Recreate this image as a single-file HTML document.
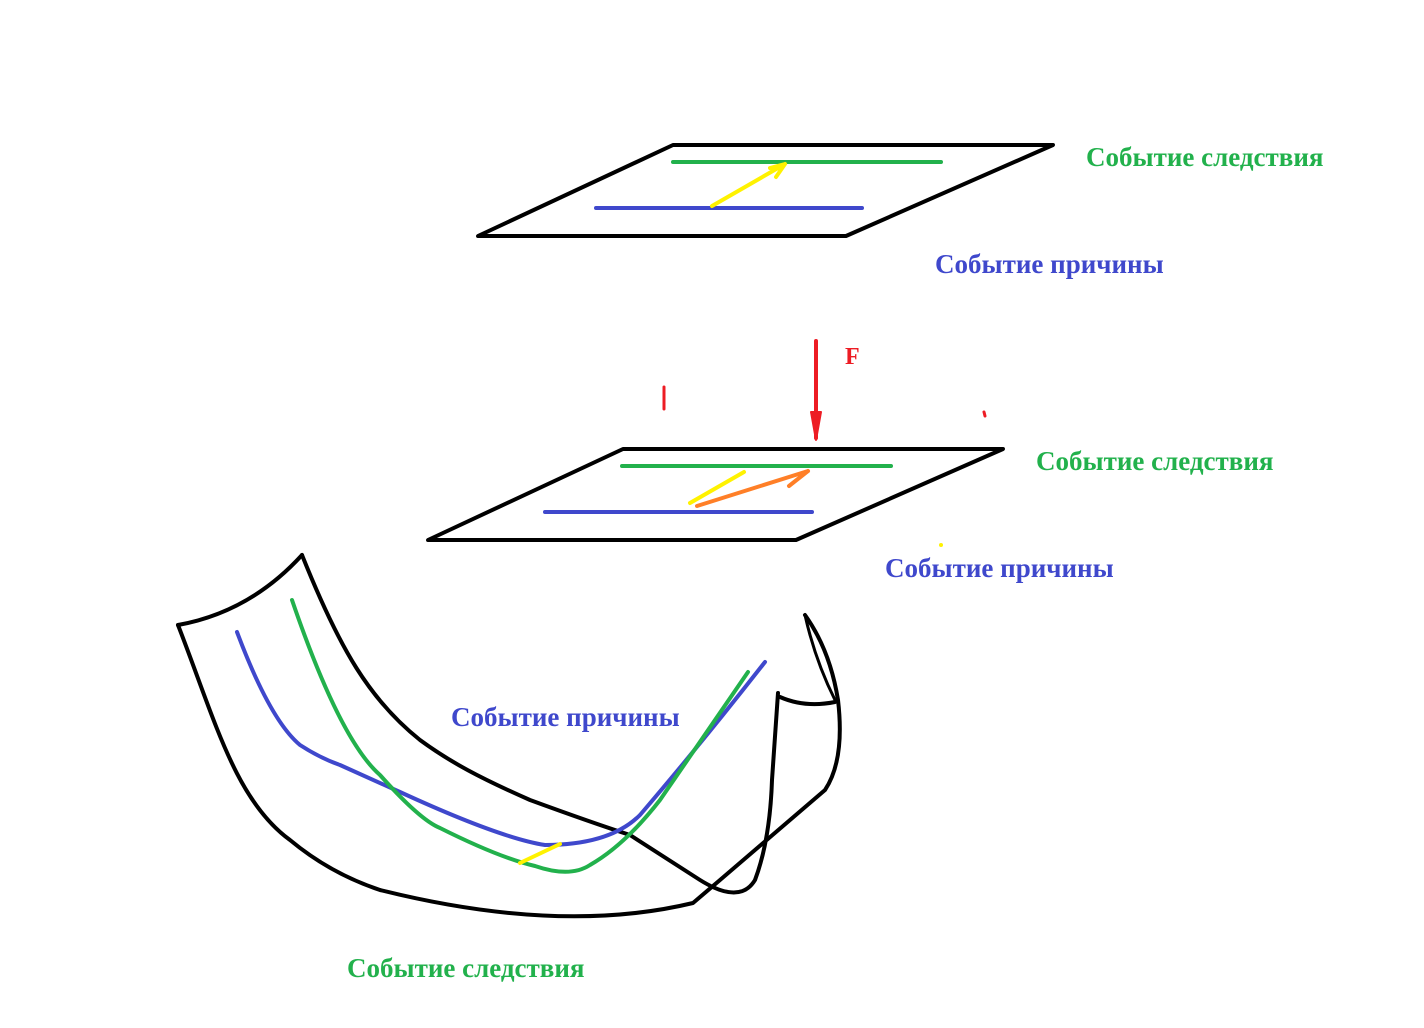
<!DOCTYPE html>
<html><head><meta charset="utf-8"><style>
html,body{margin:0;padding:0;background:#fff;width:1424px;height:1028px;overflow:hidden}
svg{display:block}
text{font-family:"Liberation Serif",serif;font-weight:bold;font-size:27px}
</style></head><body>
<svg width="1424" height="1028" viewBox="0 0 1424 1028" xmlns="http://www.w3.org/2000/svg">
<g fill="none" stroke-linecap="round" stroke-linejoin="round">
<path d="M673,145 L1053,145 L846,236 L478,236 Z" stroke="#000" stroke-width="4"/>
<path d="M673,162 L941,162" stroke="#22b14c" stroke-width="4"/>
<path d="M596,208 L862,208" stroke="#3f48cc" stroke-width="4"/>
<path d="M712,206 L785,164 M770,168 L785,164 L776,177" stroke="#fff200" stroke-width="4"/>
<path d="M816,341 L816,438" stroke="#ed1c24" stroke-width="4"/>
<path d="M811,412 L816,440 L821,412 Z" fill="#ed1c24" stroke="#ed1c24" stroke-width="2"/>
<path d="M664,387 L664,409" stroke="#ed1c24" stroke-width="3"/>
<path d="M984,412 L985,416" stroke="#ed1c24" stroke-width="3"/>
<path d="M623,449 L1003,449 L796,540 L428,540 Z" stroke="#000" stroke-width="4"/>
<path d="M622,466 L891,466" stroke="#22b14c" stroke-width="4"/>
<path d="M545,512 L812,512" stroke="#3f48cc" stroke-width="4"/>
<path d="M690,503 L744,472" stroke="#fff200" stroke-width="4"/>
<path d="M697,506 L808,471 M789,486 L808,471" stroke="#ff7f27" stroke-width="4"/>
<circle cx="941" cy="545" r="2" fill="#fff200"/>
<path d="M178,625 Q250,612 302,555" stroke="#000" stroke-width="4"/>
<path d="M178,625 C215,720 235,800 290,840 C320,865 350,880 380,890 Q560,935 693,903 L720,880 Q790,820 825,790 Q845,760 838,700 Q830,650 805,615" stroke="#000" stroke-width="4"/>
<path d="M805,615 Q815,660 835,700" stroke="#000" stroke-width="3"/>
<path d="M302,555 C340,650 370,700 420,740 C450,762 480,778 530,800 Q590,822 630,835 L700,880 Q740,905 755,880 Q770,840 772,780 L778,693" stroke="#000" stroke-width="4"/>
<path d="M780,697 Q805,708 835,702" stroke="#000" stroke-width="4"/>
<path d="M237,632 Q270,720 300,745 Q320,758 340,765 L400,792 Q500,838 545,845 Q610,845 640,815 Q700,745 765,662" stroke="#3f48cc" stroke-width="4"/>
<path d="M292,600 Q340,740 380,775 Q420,820 440,828 Q500,858 535,866 Q570,878 590,865 Q625,845 660,800 L748,672" stroke="#22b14c" stroke-width="4"/>
<path d="M520,863 L560,844" stroke="#fff200" stroke-width="4"/>
</g>
<text x="1086" y="166" fill="#22b14c">Событие следствия</text>
<text x="935" y="273" fill="#3f48cc">Событие причины</text>
<text x="845" y="364" fill="#ed1c24" style="font-size:24px">F</text>
<text x="1036" y="470" fill="#22b14c">Событие следствия</text>
<text x="885" y="577" fill="#3f48cc">Событие причины</text>
<text x="451" y="726" fill="#3f48cc">Событие причины</text>
<text x="347" y="977" fill="#22b14c">Событие следствия</text>
</svg>
</body></html>
